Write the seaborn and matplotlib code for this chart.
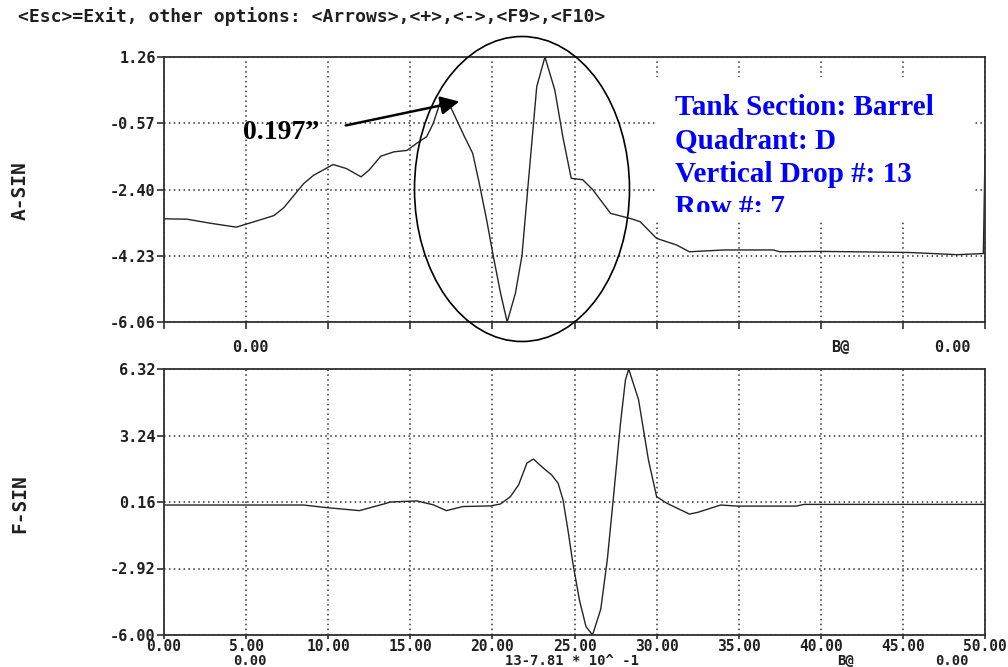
import matplotlib
matplotlib.use("Agg")
import matplotlib.pyplot as plt
import seaborn as sns
from matplotlib.patches import Ellipse, Rectangle

# A-SIN trace (top panel)
a_x = [0.0, 1.4, 2.8, 4.4, 5.2, 6.7, 7.3, 8.5, 9.1, 10.3, 11.1, 12.0, 12.5, 13.2,
       14.0, 14.8, 15.4, 16.0, 16.4, 16.8, 17.4, 18.3, 18.8, 19.2, 19.65, 20.05,
       20.5, 20.9, 21.4, 21.8, 22.2, 22.7, 23.2, 23.8, 24.3, 24.8, 25.5, 26.1,
       27.2, 28.4, 29.0, 30.0, 31.2, 32.0, 34.1, 37.1, 37.5, 40.0, 42.0, 45.4,
       48.3, 49.9, 50.0]
a_y = [-3.21, -3.22, -3.33, -3.44, -3.33, -3.12, -2.90, -2.24, -2.01, -1.71, -1.82,
       -2.05, -1.86, -1.48, -1.36, -1.32, -1.12, -0.94, -0.57, -0.02, -0.07, -0.94,
       -1.40, -2.23, -3.24, -4.23, -5.27, -6.06, -5.27, -4.23, -2.14, 0.44, 1.26,
       0.35, -0.97, -2.09, -2.13, -2.40, -3.06, -3.20, -3.29, -3.75, -3.93, -4.12,
       -4.07, -4.07, -4.12, -4.11, -4.12, -4.14, -4.20, -4.17, -1.45]

# F-SIN trace (bottom panel)
f_x = [0.0, 8.5, 9.9, 11.9, 13.4, 13.8, 15.4, 16.4, 17.2, 18.2, 19.9, 20.5, 21.1,
       21.6, 22.1, 22.5, 23.1, 23.6, 24.0, 24.3, 24.6, 24.9, 25.3, 25.7, 26.1,
       26.6, 27.0, 27.4, 27.8, 28.1, 28.3, 28.9, 29.5, 30.0, 30.6, 32.0, 32.5,
       33.9, 34.9, 38.5, 39.0, 50.0]
f_y = [0.02, 0.02, -0.10, -0.24, 0.07, 0.16, 0.21, 0.03, -0.24, -0.05, -0.02, 0.07,
       0.41, 0.96, 1.96, 2.15, 1.73, 1.42, 1.03, 0.26, -1.13, -2.67, -4.38, -5.61,
       -6.00, -4.80, -2.50, 0.60, 3.80, 5.80, 6.32, 4.90, 2.12, 0.41, 0.11, -0.40,
       -0.32, 0.02, -0.03, -0.03, 0.05, 0.05]

a_ticks = [1.26, -0.57, -2.40, -4.23, -6.06]
f_ticks = [6.32, 3.24, 0.16, -2.92, -6.00]
x_ticks = [0, 5, 10, 15, 20, 25, 30, 35, 40, 45, 50]

info_lines = ["Tank Section: Barrel", "Quadrant: D", "Vertical Drop #: 13", "Row #: 7"]

W, H = 1008, 667


def fx(px):
    return px / W


def fy(py):
    return 1 - py / H


sns.set_style("ticks")
plt.rcParams["font.family"] = ["DejaVu Sans Mono"]
plt.rcParams["font.weight"] = "bold"

ink = "#303030"
mono = dict(family="DejaVu Sans Mono", weight="bold", color="#202020")

fig = plt.figure(figsize=(10.08, 6.67), dpi=100)
ax_a = fig.add_axes([fx(164), fy(322), fx(985) - fx(164), fy(57) - fy(322)])
ax_f = fig.add_axes([fx(164), fy(635), fx(985) - fx(164), fy(369) - fy(635)])

for ax, xs, ys, yt in [(ax_a, a_x, a_y, a_ticks), (ax_f, f_x, f_y, f_ticks)]:
    sns.lineplot(x=xs, y=ys, ax=ax, sort=False, estimator=None,
                 color="#252525", linewidth=1.0)
    ax.set_xlim(0, 50)
    ax.set_ylim(yt[-1], yt[0])
    ax.set_xticks(x_ticks)
    ax.set_yticks(yt)
    ax.set_yticklabels([f"{v:.2f}" for v in yt])
    ax.grid(True, color=ink, linestyle=(0, (1, 2.2)), linewidth=1.1)
    ax.set_axisbelow(True)
    for s in ax.spines.values():
        s.set_visible(True)
        s.set_color(ink)
        s.set_linewidth(1.3)
    ax.tick_params(direction="out", length=5, width=1.2, color=ink,
                   labelsize=11, labelcolor="#202020", pad=1)

ax_a.set_xticklabels([])
ax_f.set_xticklabels([f"{v:.2f}" for v in x_ticks])
ax_f.tick_params(axis="x", length=3, pad=0, labelsize=10.5)

# axis names and the footer strings of the scope screen
fig.text(fx(20), fy(191), "A-SIN", rotation=90, ha="center", va="center", size=14, **mono)
fig.text(fx(20), fy(504), "F-SIN", rotation=90, ha="center", va="center", size=14, **mono)
fig.text(fx(18), fy(17), "<Esc>=Exit, other options: <Arrows>,<+>,<->,<F9>,<F10>",
         ha="left", va="center", size=13, **mono)
for (px, py, s) in [(250, 347, "0.00"), (840, 347, "B@"), (952, 347, "0.00")]:
    fig.text(fx(px), fy(py), s, ha="center", va="center", size=11, **mono)
for (px, py, s) in [(250, 661, "0.00"), (572, 661, "13-7.81 * 10^ -1"),
                    (845, 661, "B@"), (952, 661, "0.00")]:
    fig.text(fx(px), fy(py), s, ha="center", va="center", size=10, **mono)

# pasted annotation: ellipse, arrow and label
fig.add_artist(Ellipse((fx(522), fy(189)), 215 / W, 305 / H, transform=fig.transFigure,
                       fill=False, edgecolor="black", linewidth=1.2))
fig.add_artist(plt.Annotation("", xy=(462, H - 101), xytext=(343, H - 126),
                              xycoords="figure pixels", textcoords="figure pixels",
                              arrowprops=dict(arrowstyle="-|>", color="black",
                                              lw=1.8, mutation_scale=28)))
fig.text(fx(243), fy(139), "0.197\u201d", ha="left", va="baseline", size=20,
         family="Liberation Serif", weight="bold", color="black")

box = Rectangle((fx(655), fy(222)), (975 - 655) / W, (222 - 77) / H,
                transform=fig.transFigure, facecolor="white", edgecolor="none", zorder=1)
ax_a.add_patch(box)
clip = Rectangle((fx(655), fy(212)), (975 - 655) / W, (212 - 77) / H,
                 transform=fig.transFigure, facecolor="none", edgecolor="none")
ax_a.add_patch(clip)
for i, line in enumerate(info_lines):
    t = fig.text(fx(675), fy(115 + 33.5 * i), line, ha="left", va="baseline", size=21,
                 family="Liberation Serif", weight="bold", color="#0000ff")
    t.set_clip_path(clip)

fig.savefig("out.png", dpi=100)
